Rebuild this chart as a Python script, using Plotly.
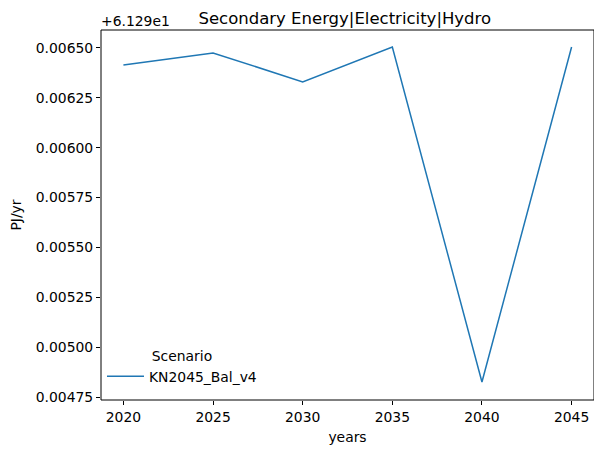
import plotly.graph_objects as go

years = [2020, 2025, 2030, 2035, 2040, 2045]
offset = 61.29
values = [61.296415, 61.296475, 61.29633, 61.296505, 61.294825, 61.296505]
scenario = "KN2045_Bal_v4"
ytick_vals = [0.00475, 0.00500, 0.00525, 0.00550, 0.00575, 0.00600, 0.00625, 0.00650]

yrel = [v - offset for v in values]

font = "DejaVu Sans"
fs = 13.9
fig = go.Figure()
fig.add_trace(go.Scatter(x=years, y=yrel, mode="lines", name=scenario,
                         line=dict(color="#1f77b4", width=1.5)))

# page body has an 8px margin; figure is sized so it ends at the window edge
fig.update_layout(
    width=594, height=445,
    margin=dict(l=93, r=8, t=22, b=53, autoexpand=False),
    paper_bgcolor="white", plot_bgcolor="white",
    font=dict(family=font, size=fs, color="black"),
    title=dict(text="Secondary Energy|Electricity|Hydro", x=0.567, xanchor="center",
               y=0.978, yanchor="middle", font=dict(size=16.5, family=font), automargin=False),
    showlegend=True,
    legend=dict(x=0.002, y=0.02, xanchor="left", yanchor="bottom",
                bgcolor="rgba(0,0,0,0)", borderwidth=0, itemwidth=37,
                title=dict(text="Scenario", side="top center", font=dict(size=fs)),
                font=dict(size=fs)),
    shapes=[dict(type="rect", xref="paper", yref="paper", x0=0, y0=0, x1=1, y1=1,
                 line=dict(color="black", width=1), layer="above")],
)
fig.update_xaxes(range=[2018.75, 2046.25], tickvals=years, ticks="outside", ticklen=4,
                 tickcolor="black", showgrid=False, zeroline=False, showline=False,
                 automargin=False,
                 title=dict(text="years", font=dict(size=fs), standoff=8),
                 tickfont=dict(size=fs))
fig.update_yaxes(range=[0.004735, 0.00659], tickvals=ytick_vals, tickformat=".5f",
                 ticks="outside", ticklen=4, tickcolor="black", showgrid=False,
                 zeroline=False, showline=False, automargin=False,
                 title=dict(text="PJ/yr", font=dict(size=fs), standoff=14),
                 tickfont=dict(size=fs))
fig.add_annotation(text="+6.129e1", xref="paper", yref="paper", x=0, y=1.0,
                   xanchor="left", yanchor="bottom", showarrow=False,
                   font=dict(size=fs, family=font), xshift=-2, yshift=-1)
fig.write_html("out.html")
